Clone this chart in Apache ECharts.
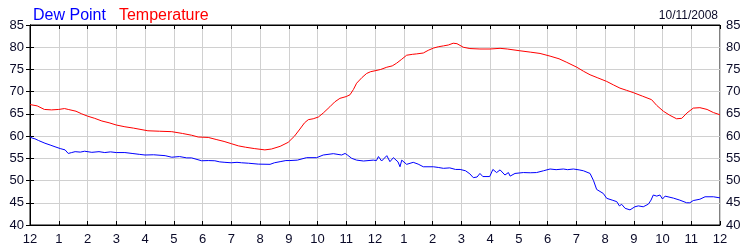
<!DOCTYPE html>
<html>
<head>
<meta charset="utf-8">
<script src="https://cdn.jsdelivr.net/npm/echarts@6/dist/echarts.min.js"></script>
<style>
html,body{margin:0;padding:0;background:#fff;}
#chart{width:750px;height:250px;}
</style>
</head>
<body>
<div id="chart"></div>
<script>
// Hours since midnight (0..24) and readings
const tempHours = [0,0.25,0.5,0.75,1.0,1.2,1.33,1.6,1.8,2.0,2.25,2.5,2.75,3.0,3.3,3.6,4.1,4.5,4.93,5.3,5.62,5.85,6.2,6.5,6.75,7.0,7.25,7.5,7.8,8.17,8.4,8.7,8.98,9.2,9.39,9.55,9.68,9.85,10.03,10.2,10.43,10.6,10.78,11.0,11.13,11.25,11.36,11.55,11.71,11.85,12.0,12.2,12.41,12.6,12.75,12.93,13.1,13.3,13.45,13.68,13.85,14.03,14.2,14.38,14.55,14.72,14.85,15.07,15.3,15.65,16.0,16.35,16.6,17.04,17.4,17.74,18.09,18.4,18.67,19.02,19.25,19.48,19.75,20.06,20.3,20.52,20.75,20.98,21.3,21.62,21.8,22.03,22.25,22.49,22.67,22.85,23.07,23.3,23.55,23.77,24.0];
const tempValues = [67.1,66.8,66.0,65.9,66.0,66.2,66.0,65.6,65.0,64.5,64.0,63.4,63.0,62.5,62.1,61.8,61.2,61.1,61.0,60.6,60.2,59.8,59.7,59.2,58.8,58.3,57.8,57.5,57.2,56.9,57.1,57.7,58.6,60.0,61.6,63.0,63.7,63.9,64.3,65.2,66.6,67.7,68.5,68.9,69.3,70.5,71.9,73.2,74.1,74.5,74.7,75.0,75.5,75.8,76.4,77.3,78.2,78.4,78.5,78.7,79.3,79.8,80.1,80.3,80.5,80.9,80.8,80.0,79.7,79.6,79.6,79.75,79.6,79.2,78.9,78.6,78.0,77.4,76.6,75.5,74.6,73.8,73.1,72.3,71.5,70.8,70.3,69.8,69.0,68.2,66.9,65.6,64.7,63.9,64.0,65.2,66.3,66.4,66.0,65.3,64.8];

const dewHours = [0,0.1,0.17,0.3,0.52,0.7,0.87,1.05,1.22,1.33,1.45,1.57,1.75,1.9,2.15,2.4,2.6,2.8,3.0,3.3,3.55,3.8,4.0,4.3,4.7,4.93,5.2,5.45,5.62,5.97,6.2,6.43,6.6,6.78,7.0,7.2,7.36,7.6,7.94,8.35,8.5,8.7,8.9,9.04,9.1,9.3,9.62,9.97,10.2,10.55,10.84,10.96,11.05,11.19,11.36,11.6,11.94,12.05,12.12,12.23,12.41,12.52,12.64,12.8,12.87,12.93,13.1,13.33,13.5,13.68,14.03,14.2,14.38,14.6,14.8,14.96,15.15,15.3,15.42,15.55,15.65,15.75,15.99,16.1,16.23,16.35,16.52,16.64,16.7,16.87,17.16,17.4,17.62,17.86,18.09,18.3,18.55,18.7,18.9,19.1,19.25,19.48,19.6,19.71,19.94,20.06,20.25,20.41,20.5,20.58,20.7,20.87,21.04,21.16,21.33,21.51,21.6,21.68,21.8,21.91,22.0,22.09,22.38,22.6,22.84,22.95,23.07,23.3,23.48,23.77,24.0];
const dewValues = [59.8,59.5,59.4,59.0,58.4,58.0,57.6,57.2,56.9,56.1,56.3,56.5,56.4,56.6,56.35,56.5,56.3,56.45,56.3,56.3,56.1,55.9,55.75,55.8,55.6,55.25,55.4,55.1,55.1,54.45,54.5,54.45,54.2,54.1,54.0,54.1,54.0,53.9,53.7,53.65,54.0,54.25,54.5,54.5,54.1,54.6,55.15,55.15,55.75,56.05,55.75,56.1,55.7,55.0,54.6,54.4,54.6,54.5,55.4,54.4,55.6,54.25,55.15,54.2,53.1,54.6,53.65,54.1,53.7,53.1,53.1,52.95,52.75,52.85,52.5,52.5,52.2,51.5,50.65,50.8,51.6,50.9,50.9,52.5,51.8,52.4,51.25,51.8,51.0,51.6,51.8,51.75,51.8,52.2,52.6,52.45,52.6,52.45,52.6,52.4,52.2,51.6,50.0,48.0,47.1,46.0,45.6,45.25,44.3,44.65,43.75,43.4,44.1,44.3,44.1,44.7,45.6,46.75,46.5,46.75,45.85,46.5,46.05,45.6,45.0,45.0,45.5,45.8,46.35,46.35,46.1];

const hourLabels = ['12','1','2','3','4','5','6','7','8','9','10','11','12','1','2','3','4','5','6','7','8','9','10','11','12'];
const yTicks = [40,45,50,55,60,65,70,75,80,85];
const dateText = '10/11/2008';

const tempData = tempHours.map((h,i)=>[h,tempValues[i]]);
const dewData = dewHours.map((h,i)=>[h,dewValues[i]]);

const labelColor = '#0a0a28';
const font = 'Liberation Sans, Arial, sans-serif';

const chart = echarts.init(document.getElementById('chart'), null, {renderer:'canvas'});
const yAxisBase = {
  type:'value', min:yTicks[0], max:yTicks[yTicks.length-1], interval:5,
  axisLine:{show:true, lineStyle:{color:'#000', width:1}},
  axisTick:{show:true, inside:true, length:4, lineStyle:{color:'#000', width:1}},
  axisLabel:{color:labelColor, fontSize:13, fontFamily:font, margin:6},
};
chart.setOption({
  animation:false,
  backgroundColor:'#fff',
  grid:{left:30, right:30, top:25, bottom:25, show:true, borderColor:'#000', borderWidth:1},
  legend:{
    left:23, top:3, icon:'none', itemWidth:0, itemGap:8, selectedMode:false,
    textStyle:{fontSize:16, fontFamily:font},
    data:[
      {name:'Dew Point', textStyle:{color:'#0000ff'}},
      {name:'Temperature', textStyle:{color:'#ff0000'}}
    ]
  },
  title:{text:dateText, right:27, top:5, textStyle:{fontSize:12, fontWeight:'normal', color:labelColor, fontFamily:font}},
  xAxis:[
    {type:'value', min:0, max:24, interval:1, position:'bottom',
     axisLine:{show:true, lineStyle:{color:'#000', width:1}},
     axisTick:{show:true, inside:true, length:4, lineStyle:{color:'#000', width:1}},
     axisLabel:{color:labelColor, fontSize:13, fontFamily:font, margin:8,
       formatter:(v)=>hourLabels[Math.round(v)]},
     splitLine:{show:true, lineStyle:{color:'#d0d0d0', width:1}}},
    {type:'value', min:0, max:24, interval:1, position:'top',
     axisLine:{show:true, lineStyle:{color:'#000', width:1}},
     axisTick:{show:true, inside:true, length:4, lineStyle:{color:'#000', width:1}},
     axisLabel:{show:false}, splitLine:{show:false}}
  ],
  yAxis:[
    Object.assign({}, yAxisBase, {position:'left', splitLine:{show:true, lineStyle:{color:'#d0d0d0', width:1}}}),
    Object.assign({}, yAxisBase, {position:'right', splitLine:{show:false}})
  ],
  series:[
    {name:'Dew Point', type:'line', data:dewData, showSymbol:false, symbol:'none',
     lineStyle:{color:'#0000ff', width:1}, itemStyle:{color:'#0000ff'}, xAxisIndex:0, yAxisIndex:0, z:3},
    {name:'Temperature', type:'line', data:tempData, showSymbol:false, symbol:'none',
     lineStyle:{color:'#ff0000', width:1}, itemStyle:{color:'#ff0000'}, xAxisIndex:0, yAxisIndex:0, z:3}
  ]
});
</script>
</body>
</html>
